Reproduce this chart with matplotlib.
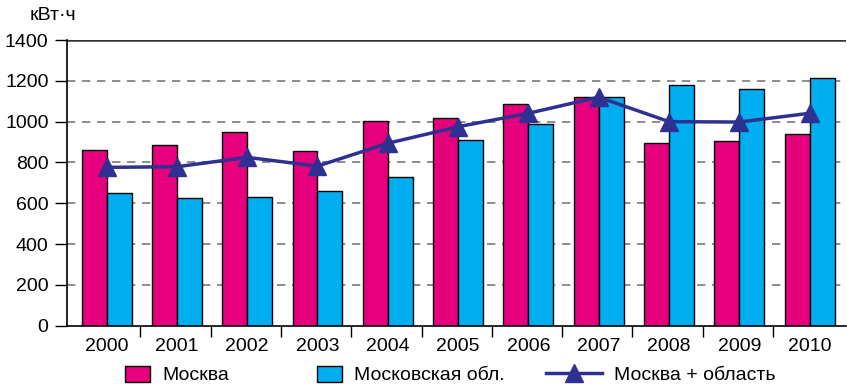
import matplotlib
matplotlib.use("Agg")
import matplotlib.pyplot as plt
import numpy as np
from matplotlib.patches import Patch
from matplotlib.lines import Line2D

# data
years = ["2000", "2001", "2002", "2003", "2004", "2005",
         "2006", "2007", "2008", "2009", "2010"]
moscow = [861, 885, 949, 857, 1001, 1019, 1085, 1122, 897, 905, 941]
region = [649, 627, 632, 658, 728, 910, 988, 1122, 1178, 1161, 1214]
combined = [776, 779, 825, 782, 894, 975, 1041, 1120, 1000, 998, 1041]

pink = "#E6007E"
blue = "#00AEEF"
navy = "#2E3192"

plt.rcParams["font.family"] = ["Liberation Sans", "DejaVu Sans"]

fig = plt.figure(figsize=(8.47, 3.87), dpi=100)
ax = fig.add_axes([0.0787, 0.1584, 0.9203, 0.7382])

x = np.arange(len(years))
w = 0.355
ax.bar(x - w / 2, moscow, w, color=pink, edgecolor="black", linewidth=1, zorder=2)
ax.bar(x + w / 2, region, w, color=blue, edgecolor="black", linewidth=1, zorder=2)
ax.plot(x, combined, color=navy, linewidth=2.5, marker="^", markersize=13,
        markeredgecolor=navy, zorder=3)

ax.set_ylim(0, 1400)
ax.set_xlim(-0.568, len(years) - 1 + 0.52)
ax.set_yticks(range(0, 1401, 200))
ax.set_xticks(x)
ax.set_xticklabels(years)
ax.set_xticks(x[:-1] + 0.48, minor=True)
ax.tick_params(axis="x", which="major", length=0, pad=9, labelsize=14)
ax.tick_params(axis="x", which="minor", length=8, width=1, direction="out")
ax.tick_params(axis="y", length=9, width=1, labelsize=14, pad=4)

for v in range(200, 1201, 200):
    ax.axhline(v, color="#7a7a7a", linestyle=(0, (5, 4)), linewidth=1.2, zorder=1)
ax.axhline(1400, color="#333333", linewidth=1.8, zorder=1)

ax.spines["right"].set_visible(False)
ax.spines["top"].set_visible(False)
ax.spines["left"].set_linewidth(1.2)
ax.spines["bottom"].set_linewidth(1.2)

fig.text(30 / 847, 1 - 16 / 387, "кВт·ч", fontsize=14, ha="left", va="center")

# legend items placed separately to match the uneven spacing
items = [
    (Patch(facecolor=pink, edgecolor="black", linewidth=1), "Москва", 125, 1.3),
    (Patch(facecolor=blue, edgecolor="black", linewidth=1), "Московская обл.", 317, 1.3),
    (Line2D([0], [0], color=navy, linewidth=2.5, marker="^", markersize=13),
     "Москва + область", 546, 2.9),
]
for handle, label, px, hl in items:
    fig.legend([handle], [label], loc="center left",
               bbox_to_anchor=(px / 847, 1 - 375 / 387),
               frameon=False, fontsize=14, handlelength=hl, handleheight=0.9,
               handletextpad=0.6, borderpad=0, borderaxespad=0)

fig.savefig("out.png", dpi=100)
